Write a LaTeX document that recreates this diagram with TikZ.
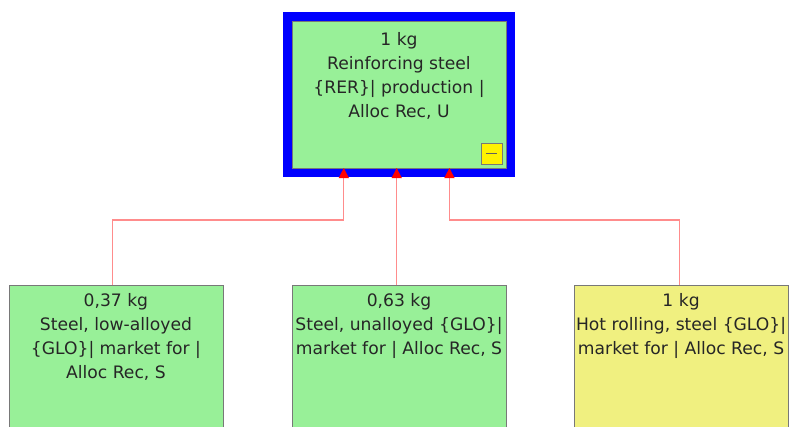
\documentclass[tikz,border=0pt]{standalone}
\usepackage{fontspec}
\setmainfont{DejaVu Sans}
\usepackage{tikz}
\usetikzlibrary{arrows.meta,positioning,calc}
\usepackage{xcolor}
\definecolor{boxgreen}{RGB}{152,240,152}
\definecolor{boxyellow}{RGB}{240,240,128}
\definecolor{frameblue}{RGB}{0,0,255}
\definecolor{linkred}{RGB}{255,140,140}
\definecolor{edgegray}{RGB}{120,120,120}

\begin{document}
\begin{tikzpicture}[
    x=0.025cm, y=0.025cm,
    box/.style={rectangle, draw=edgegray, line width=0.5pt, outer sep=0pt, inner sep=0pt, minimum width=5.35cm, minimum height=4.55cm},
    proc/.style={box, fill=boxgreen},
    waste/.style={box, fill=boxyellow},
    main/.style={rectangle, draw=frameblue, fill=boxgreen, line width=6.4pt, outer sep=0pt, inner sep=0pt, minimum width=5.575cm, minimum height=3.9cm},
    txt/.style={anchor=north, inner sep=0pt, align=center, text=black!85, font=\fontsize{12.2}{17.1}\selectfont},
    link/.style={draw=linkred, line width=0.8pt, -{Triangle[length=0.25cm, width=0.25cm, red]}},
    fold/.style={rectangle, draw=edgegray, fill=yellow, line width=0.6pt, outer sep=0pt, minimum size=0.525cm, inner sep=0pt}
]
    \useasboundingbox (0,0) rectangle (789,427);
    \clip (0,0) rectangle (789,427);

    % Reference process
    \node[main] (top) at (399,332.5) {};
    \draw[edgegray, line width=0.5pt] ([xshift=0.1125cm, yshift=0.1125cm]top.south west) rectangle ([xshift=-0.1125cm, yshift=-0.1125cm]top.north east);
    \node[txt, below=0.3875cm of top.north] (topLbl) {1 kg\\Reinforcing steel\\\{RER\}| production |\\Alloc Rec, U};
    \node[fold, anchor=south east] (mini) at ([xshift=-0.2125cm, yshift=0.2125cm]top.south east) {};
    \draw[edgegray!80!black, line width=0.9pt] ([xshift=-0.14cm]mini.center) -- ([xshift=0.14cm]mini.center);

    % Input processes
    \node[proc, below=2.8125cm of top] (lowM) {};
    \node[proc, left=1.725cm of lowM] (lowL) {};
    \node[waste, right=1.7cm of lowM] (lowR) {};
    \node[txt, below=0.2cm of lowL.north] (lowLLbl) {0,37 kg\\Steel, low-alloyed\\\{GLO\}| market for |\\Alloc Rec, S};
    \node[txt, below=0.2cm of lowM.north] (lowMLbl) {0,63 kg\\Steel, unalloyed \{GLO\}|\\market for | Alloc Rec, S};
    \node[txt, below=0.2cm of lowR.north] (lowRLbl) {1 kg\\Hot rolling, steel \{GLO\}|\\market for | Alloc Rec, S};

    % Edges
    \draw[link] ([xshift=-0.075cm]lowL.north) -- ++(0,65) -| ([xshift=-1.38cm, yshift=0.1125cm]top.south);
    \draw[link] ([xshift=-0.0575cm]lowM.north) -- ([xshift=-0.0575cm, yshift=0.1125cm]top.south);
    \draw[link] ([xshift=-0.05cm]lowR.north) -- ++(0,65) -| ([xshift=1.26cm, yshift=0.1125cm]top.south);
\end{tikzpicture}
\end{document}
